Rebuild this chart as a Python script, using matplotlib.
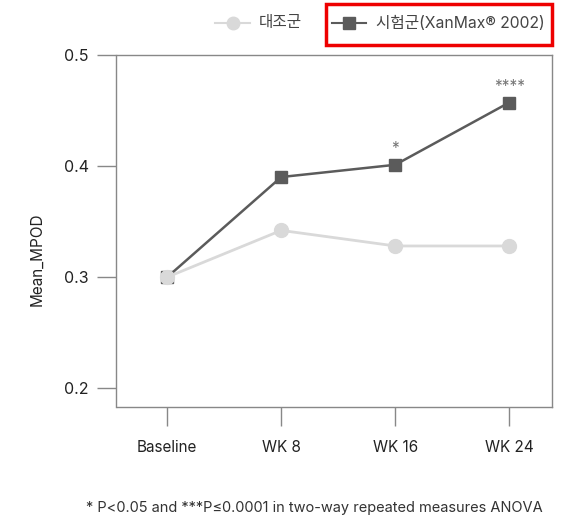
import matplotlib
matplotlib.use("Agg")
import matplotlib.pyplot as plt
from matplotlib.lines import Line2D
from matplotlib.patches import Rectangle

plt.rcParams['font.family'] = ['Inter', 'Noto Sans CJK KR', 'DejaVu Sans']

categories = ["Baseline", "WK 8", "WK 16", "WK 24"]
control = [0.300, 0.342, 0.328, 0.328]
test = [0.300, 0.390, 0.401, 0.457]
sig_marks = ["", "", "*", "****"]
yticks = [0.2, 0.3, 0.4, 0.5]
control_label = "대조군"
test_label = "시험군(XanMax® 2002)"
footnote = "* P<0.05 and ***P≤0.0001 in two-way repeated measures ANOVA"

W, H = 585, 531
fig = plt.figure(figsize=(W / 100, H / 100), dpi=100)
ax = fig.add_axes([116.5 / W, 1 - 407 / H, (552 - 116.5) / W, (407 - 54.7) / H])

x = list(range(len(categories)))
c_light = "#d9d9d9"
c_dark = "#5b5b5b"

ax.plot(x, test, color=c_dark, lw=1.8, marker="s", ms=8.6, mfc=c_dark, mec=c_dark, zorder=3)
ax.plot(x, control, color=c_light, lw=2, marker="o", ms=10, mfc=c_light, mec=c_light, zorder=4)

for xi, yi, s in zip(x, test, sig_marks):
    if s:
        ax.annotate(s, (xi, yi), xytext=(0, 6), textcoords="offset points",
                    ha="center", va="bottom", fontsize=11, color="#777777")

ax.set_xlim(-0.445, 3.375)
ax.set_ylim(0.1832, 0.5)
ax.set_xticks(x)
ax.set_xticklabels(categories)
ax.set_yticks(yticks)
ax.set_yticklabels([f"{v:.1f}" for v in yticks])
ax.set_ylabel("Mean_MPOD", fontsize=11, color="#222222")
ax.yaxis.set_label_coords((44 - 116.5) / (552 - 116.5), (407 - 259) / (407 - 54.7))

for sp in ax.spines.values():
    sp.set_color("#888888")
    sp.set_linewidth(1)
ax.tick_params(axis="both", direction="out", length=14, width=1, color="#888888",
               labelcolor="#222222", pad=6)
ax.tick_params(axis="y", labelsize=11.5)
ax.tick_params(axis="x", labelsize=11, pad=10)

# legend (placed in figure pixel coordinates)
def fx(px):
    return px / W

def fy(py):
    return 1 - py / H

ly = 23
fig.add_artist(Line2D([fx(215), fx(250)], [fy(ly), fy(ly)], color=c_light, lw=1.5,
                      transform=fig.transFigure))
fig.add_artist(Line2D([fx(232.5)], [fy(ly)], color=c_light, marker="o", ms=9,
                      mfc=c_light, mec=c_light, lw=0, transform=fig.transFigure))
fig.text(fx(259), fy(ly), control_label, ha="left", va="center", fontsize=11.3,
         color="#444444")
fig.add_artist(Line2D([fx(332), fx(366)], [fy(ly), fy(ly)], color=c_dark, lw=1.5,
                      transform=fig.transFigure))
fig.add_artist(Line2D([fx(349)], [fy(ly)], color=c_dark, marker="s", ms=8,
                      mfc=c_dark, mec=c_dark, lw=0, transform=fig.transFigure))
fig.text(fx(376), fy(ly), test_label, ha="left", va="center", fontsize=11.3,
         color="#444444")

fig.patches.append(Rectangle((fx(326), fy(45)), (552 - 326) / W, (45 - 4) / H,
                             transform=fig.transFigure, fill=False,
                             edgecolor="#ee0000", lw=2.5))

fig.text(314 / W, 1 - 508 / H, footnote, ha="center", va="center",
         fontsize=10.5, color="#333333")

fig.savefig("out.png", dpi=100, facecolor="white")
